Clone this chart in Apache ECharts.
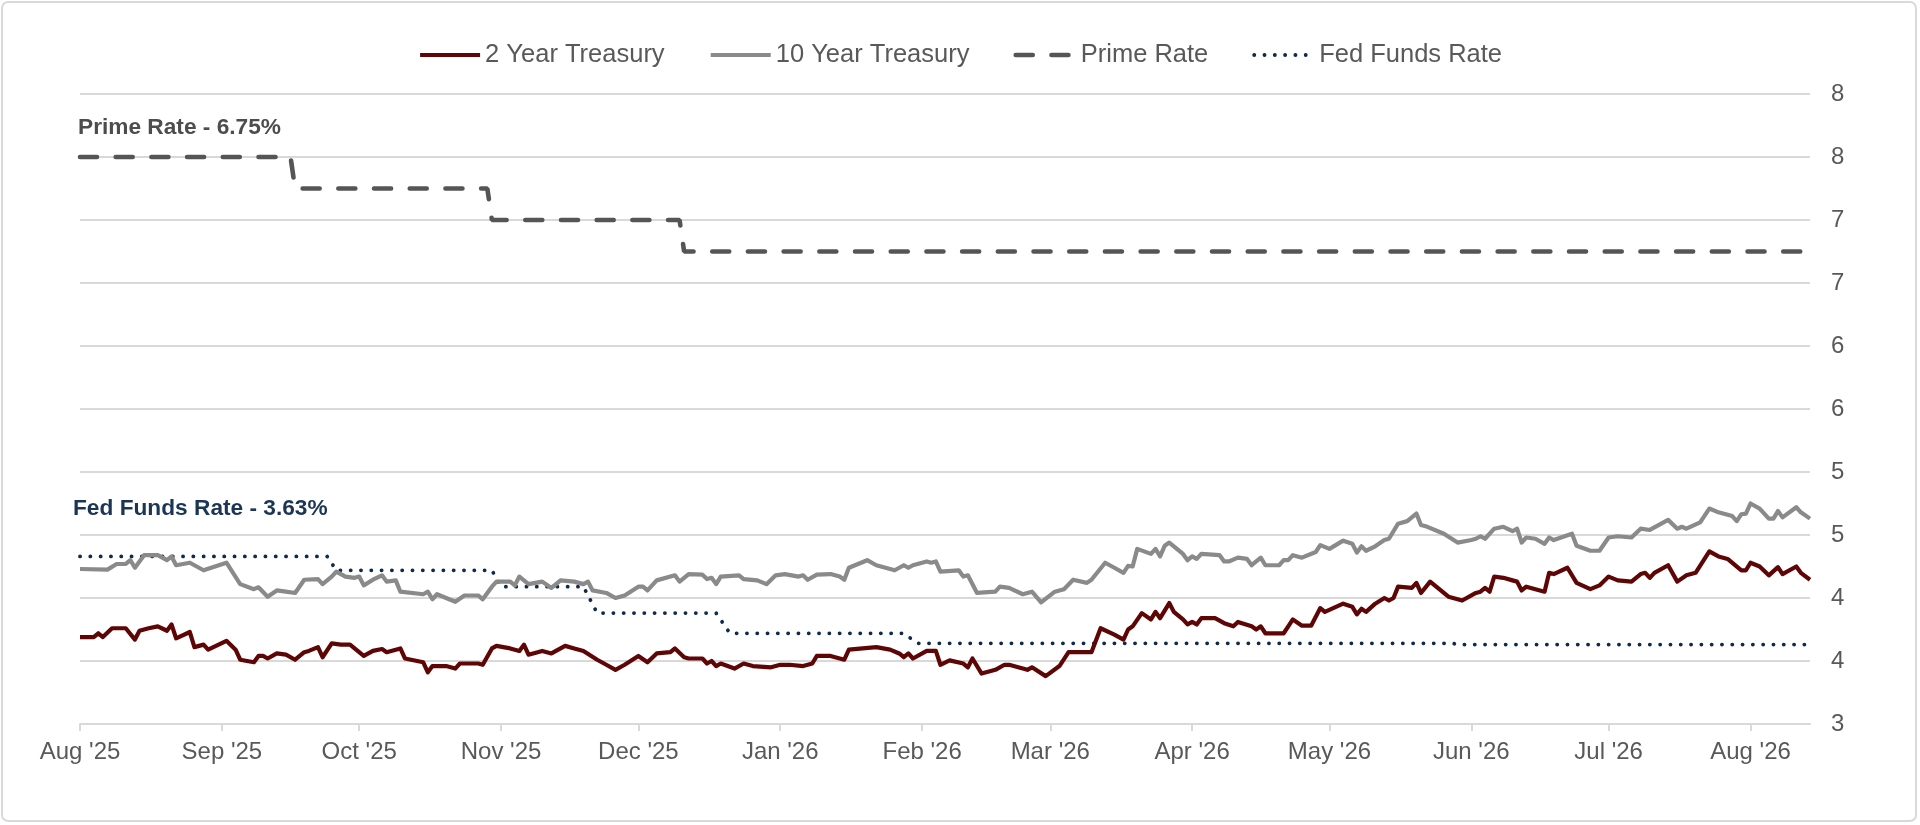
<!DOCTYPE html>
<html>
<head>
<meta charset="utf-8">
<title>Treasury yields and policy rates</title>
<script src="https://cdn.jsdelivr.net/npm/echarts@6/dist/echarts.min.js"></script>
<style>
  html, body { margin: 0; padding: 0; background: #fff; }
  #chart { width: 1920px; height: 825px; }
</style>
</head>
<body>
<div id="chart"></div>
<script>
// series: [date, rate %]
var twoYear = [
    ['2025-08-01', 3.69], ['2025-08-04', 3.69], ['2025-08-05', 3.72], ['2025-08-06', 3.69], ['2025-08-08', 3.76],
    ['2025-08-11', 3.76], ['2025-08-13', 3.67], ['2025-08-14', 3.74], ['2025-08-16', 3.76], ['2025-08-18', 3.775],
    ['2025-08-20', 3.74], ['2025-08-21', 3.79], ['2025-08-22', 3.68], ['2025-08-25', 3.73], ['2025-08-26', 3.61],
    ['2025-08-28', 3.63], ['2025-08-29', 3.59], ['2025-09-02', 3.66], ['2025-09-04', 3.59], ['2025-09-05', 3.51],
    ['2025-09-08', 3.49], ['2025-09-09', 3.54], ['2025-09-10', 3.54], ['2025-09-11', 3.52], ['2025-09-13', 3.56],
    ['2025-09-15', 3.55], ['2025-09-17', 3.51], ['2025-09-19', 3.57], ['2025-09-20', 3.58], ['2025-09-22', 3.61],
    ['2025-09-23', 3.53], ['2025-09-25', 3.64], ['2025-09-27', 3.63], ['2025-09-29', 3.63], ['2025-10-02', 3.54],
    ['2025-10-04', 3.58], ['2025-10-06', 3.595], ['2025-10-07', 3.57], ['2025-10-10', 3.60], ['2025-10-11', 3.52],
    ['2025-10-15', 3.49], ['2025-10-16', 3.41], ['2025-10-17', 3.46], ['2025-10-20', 3.46], ['2025-10-22', 3.44],
    ['2025-10-23', 3.48], ['2025-10-27', 3.48], ['2025-10-28', 3.47], ['2025-10-30', 3.60], ['2025-10-31', 3.62],
    ['2025-11-03', 3.60], ['2025-11-05', 3.58], ['2025-11-06', 3.63], ['2025-11-07', 3.55], ['2025-11-10', 3.58],
    ['2025-11-12', 3.56], ['2025-11-15', 3.62], ['2025-11-17', 3.60], ['2025-11-19', 3.58], ['2025-11-22', 3.51],
    ['2025-11-24', 3.47], ['2025-11-26', 3.43], ['2025-11-28', 3.47], ['2025-12-01', 3.54], ['2025-12-03', 3.49],
    ['2025-12-05', 3.56], ['2025-12-08', 3.57], ['2025-12-09', 3.60], ['2025-12-11', 3.53], ['2025-12-12', 3.52],
    ['2025-12-15', 3.52], ['2025-12-16', 3.48], ['2025-12-17', 3.50], ['2025-12-18', 3.46], ['2025-12-19', 3.48],
    ['2025-12-22', 3.44], ['2025-12-24', 3.48], ['2025-12-26', 3.46], ['2025-12-30', 3.45], ['2026-01-01', 3.47],
    ['2026-01-03', 3.47], ['2026-01-06', 3.46], ['2026-01-08', 3.48], ['2026-01-09', 3.54], ['2026-01-12', 3.54],
    ['2026-01-15', 3.51], ['2026-01-16', 3.59], ['2026-01-19', 3.60], ['2026-01-22', 3.61], ['2026-01-25', 3.59],
    ['2026-01-27', 3.56], ['2026-01-28', 3.53], ['2026-01-29', 3.56], ['2026-01-30', 3.52], ['2026-02-02', 3.58],
    ['2026-02-04', 3.58], ['2026-02-05', 3.47], ['2026-02-07', 3.505], ['2026-02-10', 3.48], ['2026-02-11', 3.45],
    ['2026-02-12', 3.52], ['2026-02-14', 3.40], ['2026-02-17', 3.43], ['2026-02-19', 3.47], ['2026-02-20', 3.47],
    ['2026-02-24', 3.43], ['2026-02-25', 3.45], ['2026-02-28', 3.38], ['2026-03-03', 3.46], ['2026-03-05', 3.57],
    ['2026-03-10', 3.57], ['2026-03-12', 3.76], ['2026-03-15', 3.71], ['2026-03-17', 3.67], ['2026-03-18', 3.75],
    ['2026-03-19', 3.775], ['2026-03-21', 3.88], ['2026-03-23', 3.83], ['2026-03-24', 3.89], ['2026-03-25', 3.84],
    ['2026-03-27', 3.96], ['2026-03-28', 3.89], ['2026-03-30', 3.83], ['2026-03-31', 3.79], ['2026-04-01', 3.81],
    ['2026-04-02', 3.79], ['2026-04-03', 3.84], ['2026-04-06', 3.84], ['2026-04-08', 3.80], ['2026-04-10', 3.775],
    ['2026-04-11', 3.81], ['2026-04-14', 3.775], ['2026-04-15', 3.75], ['2026-04-16', 3.775], ['2026-04-17', 3.72],
    ['2026-04-21', 3.72], ['2026-04-22', 3.775], ['2026-04-23', 3.83], ['2026-04-25', 3.78], ['2026-04-27', 3.78],
    ['2026-04-29', 3.92], ['2026-04-30', 3.89], ['2026-05-04', 3.955], ['2026-05-06', 3.93], ['2026-05-07', 3.87],
    ['2026-05-08', 3.915], ['2026-05-09', 3.89], ['2026-05-11', 3.955], ['2026-05-13', 4.00], ['2026-05-14', 3.98],
    ['2026-05-15', 4.00], ['2026-05-16', 4.09], ['2026-05-19', 4.08], ['2026-05-20', 4.12], ['2026-05-21', 4.04],
    ['2026-05-23', 4.13], ['2026-05-27', 4.01], ['2026-05-30', 3.98], ['2026-06-02', 4.04], ['2026-06-03', 4.05],
    ['2026-06-04', 4.08], ['2026-06-05', 4.05], ['2026-06-06', 4.17], ['2026-06-08', 4.16], ['2026-06-10', 4.14],
    ['2026-06-11', 4.13], ['2026-06-12', 4.06], ['2026-06-13', 4.09], ['2026-06-17', 4.05], ['2026-06-18', 4.20],
    ['2026-06-19', 4.19], ['2026-06-22', 4.24], ['2026-06-24', 4.12], ['2026-06-27', 4.07], ['2026-06-29', 4.10],
    ['2026-07-01', 4.17], ['2026-07-03', 4.14], ['2026-07-06', 4.13], ['2026-07-08', 4.19], ['2026-07-09', 4.20],
    ['2026-07-10', 4.16], ['2026-07-11', 4.20], ['2026-07-14', 4.26], ['2026-07-16', 4.13], ['2026-07-18', 4.18],
    ['2026-07-20', 4.20], ['2026-07-23', 4.37], ['2026-07-25', 4.33], ['2026-07-27', 4.31], ['2026-07-30', 4.22],
    ['2026-07-31', 4.22], ['2026-08-01', 4.28], ['2026-08-03', 4.25], ['2026-08-05', 4.18], ['2026-08-07', 4.245],
    ['2026-08-08', 4.19], ['2026-08-11', 4.25], ['2026-08-12', 4.20], ['2026-08-14', 4.145]
];

var tenYear = [
    ['2025-08-01', 4.23], ['2025-08-07', 4.225], ['2025-08-09', 4.27], ['2025-08-11', 4.27], ['2025-08-12', 4.30],
    ['2025-08-13', 4.24], ['2025-08-15', 4.34], ['2025-08-18', 4.34], ['2025-08-20', 4.30], ['2025-08-21', 4.33],
    ['2025-08-22', 4.26], ['2025-08-25', 4.28], ['2025-08-26', 4.26], ['2025-08-28', 4.22], ['2025-09-02', 4.28],
    ['2025-09-05', 4.11], ['2025-09-08', 4.07], ['2025-09-09', 4.085], ['2025-09-11', 4.01], ['2025-09-13', 4.06],
    ['2025-09-15', 4.05], ['2025-09-17', 4.04], ['2025-09-19', 4.145], ['2025-09-22', 4.15], ['2025-09-23', 4.11],
    ['2025-09-25', 4.17], ['2025-09-26', 4.21], ['2025-09-28', 4.17], ['2025-09-30', 4.16], ['2025-10-01', 4.17],
    ['2025-10-02', 4.10], ['2025-10-04', 4.145], ['2025-10-06', 4.18], ['2025-10-07', 4.13], ['2025-10-09', 4.14],
    ['2025-10-10', 4.05], ['2025-10-15', 4.03], ['2025-10-16', 4.05], ['2025-10-17', 3.99], ['2025-10-18', 4.03],
    ['2025-10-20', 4.00], ['2025-10-22', 3.97], ['2025-10-24', 4.02], ['2025-10-27', 4.02], ['2025-10-28', 3.99],
    ['2025-10-30', 4.09], ['2025-10-31', 4.13], ['2025-11-03', 4.13], ['2025-11-04', 4.10], ['2025-11-05', 4.17],
    ['2025-11-07', 4.11], ['2025-11-10', 4.13], ['2025-11-12', 4.08], ['2025-11-14', 4.14], ['2025-11-17', 4.13],
    ['2025-11-19', 4.11], ['2025-11-20', 4.13], ['2025-11-21', 4.06], ['2025-11-24', 4.04], ['2025-11-26', 4.00],
    ['2025-11-28', 4.02], ['2025-12-01', 4.09], ['2025-12-02', 4.09], ['2025-12-03', 4.06], ['2025-12-05', 4.14],
    ['2025-12-09', 4.18], ['2025-12-10', 4.13], ['2025-12-12', 4.19], ['2025-12-15', 4.185], ['2025-12-16', 4.15],
    ['2025-12-17', 4.16], ['2025-12-18', 4.11], ['2025-12-19', 4.17], ['2025-12-23', 4.18], ['2025-12-24', 4.15],
    ['2025-12-27', 4.14], ['2025-12-29', 4.11], ['2025-12-31', 4.18], ['2026-01-02', 4.19], ['2026-01-05', 4.17],
    ['2026-01-06', 4.18], ['2026-01-07', 4.145], ['2026-01-09', 4.185], ['2026-01-12', 4.19], ['2026-01-14', 4.17],
    ['2026-01-15', 4.145], ['2026-01-16', 4.24], ['2026-01-20', 4.30], ['2026-01-22', 4.26], ['2026-01-24', 4.24],
    ['2026-01-26', 4.22], ['2026-01-28', 4.26], ['2026-01-29', 4.24], ['2026-01-30', 4.26], ['2026-02-02', 4.29],
    ['2026-02-03', 4.28], ['2026-02-04', 4.29], ['2026-02-05', 4.21], ['2026-02-09', 4.22], ['2026-02-10', 4.17],
    ['2026-02-11', 4.18], ['2026-02-13', 4.04], ['2026-02-17', 4.05], ['2026-02-18', 4.09], ['2026-02-20', 4.08],
    ['2026-02-23', 4.03], ['2026-02-25', 4.05], ['2026-02-27', 3.965], ['2026-03-02', 4.05], ['2026-03-04', 4.07],
    ['2026-03-06', 4.145], ['2026-03-09', 4.12], ['2026-03-10', 4.145], ['2026-03-13', 4.28], ['2026-03-15', 4.24],
    ['2026-03-17', 4.20], ['2026-03-18', 4.255], ['2026-03-19', 4.25], ['2026-03-20', 4.39], ['2026-03-23', 4.35],
    ['2026-03-24', 4.39], ['2026-03-25', 4.33], ['2026-03-26', 4.415], ['2026-03-27', 4.44], ['2026-03-30', 4.35],
    ['2026-03-31', 4.30], ['2026-04-01', 4.33], ['2026-04-02', 4.31], ['2026-04-03', 4.35], ['2026-04-07', 4.34],
    ['2026-04-08', 4.29], ['2026-04-09', 4.29], ['2026-04-11', 4.32], ['2026-04-13', 4.31], ['2026-04-14', 4.26],
    ['2026-04-16', 4.32], ['2026-04-17', 4.26], ['2026-04-20', 4.26], ['2026-04-21', 4.30], ['2026-04-22', 4.30],
    ['2026-04-23', 4.34], ['2026-04-25', 4.32], ['2026-04-28', 4.365], ['2026-04-29', 4.42], ['2026-05-01', 4.39],
    ['2026-05-04', 4.455], ['2026-05-06', 4.43], ['2026-05-07', 4.36], ['2026-05-08', 4.41], ['2026-05-09', 4.375],
    ['2026-05-11', 4.41], ['2026-05-13', 4.46], ['2026-05-14', 4.47], ['2026-05-16', 4.59], ['2026-05-18', 4.61],
    ['2026-05-20', 4.67], ['2026-05-21', 4.58], ['2026-05-22', 4.57], ['2026-05-26', 4.51], ['2026-05-29', 4.44],
    ['2026-06-01', 4.46], ['2026-06-02', 4.47], ['2026-06-03', 4.49], ['2026-06-04', 4.47], ['2026-06-06', 4.55],
    ['2026-06-08', 4.565], ['2026-06-10', 4.53], ['2026-06-11', 4.55], ['2026-06-12', 4.44], ['2026-06-13', 4.48],
    ['2026-06-15', 4.47], ['2026-06-17', 4.43], ['2026-06-18', 4.48], ['2026-06-19', 4.46], ['2026-06-23', 4.51],
    ['2026-06-24', 4.415], ['2026-06-27', 4.375], ['2026-06-29', 4.375], ['2026-07-01', 4.48], ['2026-07-03', 4.49],
    ['2026-07-06', 4.48], ['2026-07-08', 4.55], ['2026-07-10', 4.54], ['2026-07-14', 4.62], ['2026-07-16', 4.55],
    ['2026-07-17', 4.565], ['2026-07-18', 4.55], ['2026-07-21', 4.60], ['2026-07-23', 4.71], ['2026-07-25', 4.68],
    ['2026-07-28', 4.65], ['2026-07-29', 4.61], ['2026-07-30', 4.665], ['2026-07-31', 4.67], ['2026-08-01', 4.75],
    ['2026-08-03', 4.71], ['2026-08-05', 4.63], ['2026-08-06', 4.63], ['2026-08-07', 4.69], ['2026-08-08', 4.64],
    ['2026-08-11', 4.72], ['2026-08-12', 4.68], ['2026-08-14', 4.63]
];

// step series: value changes only at the listed dates
var primeRate = [
    ['2025-08-01', 7.5], ['2025-09-16', 7.5], ['2025-09-17', 7.25], ['2025-10-29', 7.25],
    ['2025-10-30', 7.0], ['2025-12-10', 7.0], ['2025-12-11', 6.75], ['2026-08-14', 6.75]
];

var fedFunds = [
    ['2025-08-01', 4.33], ['2025-09-24', 4.33], ['2025-09-26', 4.22], ['2025-10-30', 4.22],
    ['2025-11-01', 4.09], ['2025-11-19', 4.09], ['2025-11-22', 3.88], ['2025-12-18', 3.88],
    ['2025-12-21', 3.72], ['2026-01-28', 3.72], ['2026-01-31', 3.64], ['2026-05-28', 3.64],
    ['2026-05-29', 3.63], ['2026-08-13', 3.63]
];

var seriesNames = ['2 Year Treasury', '10 Year Treasury', 'Prime Rate', 'Fed Funds Rate'];
var monthNames = ['Jan', 'Feb', 'Mar', 'Apr', 'May', 'Jun', 'Jul', 'Aug', 'Sep', 'Oct', 'Nov', 'Dec'];
var noteLabels = ['Prime Rate - 6.75%', 'Fed Funds Rate - 3.63%'];

var axisStart = '2025-08-01';
var axisEnd = '2026-08-14';

var FONT = '"Liberation Sans", Arial, Helvetica, sans-serif';

var chart = echarts.init(document.getElementById('chart'), null, { renderer: 'canvas' });

var option = {
    backgroundColor: '#ffffff',
    animation: false,
    textStyle: { fontFamily: FONT },
    legend: {
        top: 37,
        left: 'center',
        itemWidth: 60,
        itemHeight: 2,
        itemGap: 44,
        itemStyle: { opacity: 0, borderWidth: 0 },
        lineStyle: { width: 'inherit', type: 'inherit', cap: 'inherit' },
        textStyle: { fontSize: 25.5, color: '#595959', fontFamily: FONT },
        data: seriesNames
    },
    grid: {
        left: 80,
        right: 110,
        top: 94,
        bottom: 101,
        outerBoundsMode: 'none'
    },
    xAxis: {
        type: 'time',
        min: axisStart,
        max: axisEnd,
        splitNumber: 13,
        axisLine: { lineStyle: { color: '#d9d9d9', width: 2 } },
        axisTick: { show: true, length: 7, lineStyle: { color: '#d9d9d9', width: 2 } },
        splitLine: { show: false },
        axisLabel: {
            color: '#595959',
            fontSize: 24,
            margin: 16,
            fontFamily: FONT,
            hideOverlap: false,
            formatter: function (val) {
                var d = new Date(val);
                return monthNames[d.getMonth()] + " '" + String(d.getFullYear()).slice(2);
            }
        }
    },
    yAxis: {
        type: 'value',
        position: 'right',
        min: 3,
        max: 8,
        interval: 0.5,
        axisLine: { show: false },
        axisTick: { show: false },
        splitLine: { lineStyle: { color: '#d9d9d9', width: 2 } },
        axisLabel: {
            color: '#595959',
            fontSize: 24,
            margin: 21,
            fontFamily: FONT,
            formatter: function (v) { return String(Math.round(v)); }
        }
    },
    graphic: [
        {
            type: 'rect',
            silent: true,
            shape: { x: 2, y: 2, width: 1914, height: 819, r: 6 },
            style: { fill: 'none', stroke: '#d9d9d9', lineWidth: 2 }
        },
        {
            type: 'text',
            x: 78,
            y: 128,
            style: {
                text: noteLabels[0],
                fill: '#4d4d4d',
                font: 'bold 22.7px ' + FONT,
                verticalAlign: 'middle'
            }
        },
        {
            type: 'text',
            x: 73,
            y: 509,
            style: {
                text: noteLabels[1],
                fill: '#1b3556',
                font: 'bold 22.7px ' + FONT,
                verticalAlign: 'middle'
            }
        }
    ],
    series: [
        {
            name: seriesNames[0],
            type: 'line',
            data: twoYear,
            symbol: 'none',
            color: '#5e0606',
            lineStyle: { width: 4.2, color: '#5e0606', join: 'round' },
            z: 4
        },
        {
            name: seriesNames[1],
            type: 'line',
            data: tenYear,
            symbol: 'none',
            color: '#8a8a8a',
            lineStyle: { width: 4.2, color: '#8a8a8a', join: 'round' },
            z: 3
        },
        {
            name: seriesNames[2],
            type: 'line',
            data: primeRate,
            symbol: 'none',
            color: '#555555',
            lineStyle: { width: 4.6, color: '#555555', type: [17, 18.7], cap: 'round' },
            z: 2
        },
        {
            name: seriesNames[3],
            type: 'line',
            data: fedFunds,
            symbol: 'none',
            color: '#0f2a4a',
            lineStyle: { width: 3.8, color: '#0f2a4a', type: [0.1, 10.2], cap: 'round' },
            z: 2
        }
    ]
};

chart.setOption(option);
</script>
</body>
</html>
